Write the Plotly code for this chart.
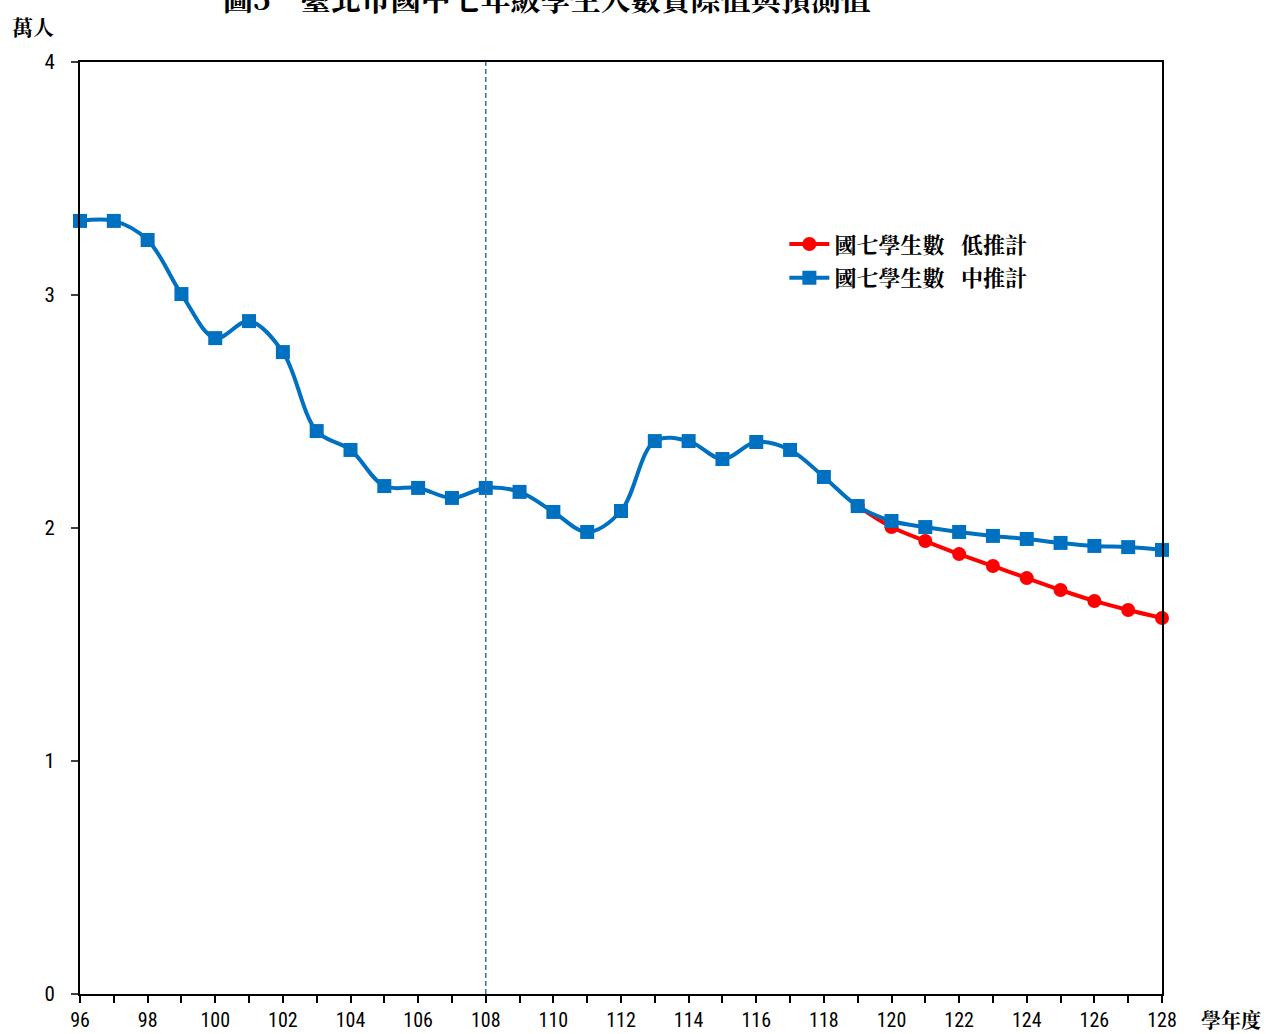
import plotly.graph_objects as go

years = list(range(96, 129))
mid_values = [3.318, 3.318, 3.236, 3.004, 2.815, 2.888, 2.755, 2.416, 2.335, 2.180,
              2.172, 2.129, 2.172, 2.155, 2.069, 1.983, 2.073, 2.373, 2.373, 2.296,
              2.369, 2.335, 2.219, 2.094, 2.030, 2.004, 1.983, 1.966, 1.953, 1.936,
              1.923, 1.918, 1.906]
low_years = list(range(119, 129))
low_values = [2.094, 2.004, 1.944, 1.888, 1.837, 1.785, 1.734, 1.687, 1.648, 1.614]
x_tick_labels = list(range(96, 129, 2))
y_tick_labels = [0, 1, 2, 3, 4]
divider_year = 108

title_text = "圖5　臺北市國中七年級學生人數實際值與預測值"
name_low = "國七學生數   低推計"
name_mid = "國七學生數   中推計"

num_font = "Liberation Sans Narrow, Arial Narrow, Roboto Condensed, sans-serif"
cjk_font = "Noto Serif CJK TC, Noto Sans CJK TC, sans-serif"

fig = go.Figure()
fig.add_trace(go.Scatter(
    x=low_years, y=low_values, name=name_low, mode="lines+markers",
    legendgroup="low",
    line=dict(color="#FF0000", width=4, shape="spline"),
    marker=dict(symbol="circle", size=14, color="#FF0000"),
    cliponaxis=False,
))
fig.add_trace(go.Scatter(
    x=years, y=mid_values, name=name_mid, mode="lines+markers",
    legendgroup="mid",
    line=dict(color="#0070C0", width=4, shape="spline"),
    marker=dict(symbol="square", size=14, color="#0070C0"),
    cliponaxis=False,
))

fig.add_shape(type="line", x0=divider_year, x1=divider_year, y0=0, y1=1, xref="x", yref="paper",
              line=dict(color="#2E75B6", width=1.5, dash="5px,3px"))

fig.add_annotation(text=title_text, xref="paper", yref="paper", x=0.432, y=1.070,
                   xanchor="center", yanchor="middle", showarrow=False,
                   font=dict(family=cjk_font, size=30, color="black", weight="bold"))
fig.add_annotation(text="萬人", xref="paper", yref="paper", x=-0.0434, y=1.0386,
                   xanchor="center", yanchor="middle", showarrow=False,
                   font=dict(family=cjk_font, size=21, color="black", weight="bold"))
fig.add_annotation(text="學年度", xref="paper", yref="paper", x=1.0635, y=-0.027,
                   xanchor="center", yanchor="middle", showarrow=False,
                   font=dict(family=cjk_font, size=20, color="black", weight="bold"))

fig.update_layout(
    width=1268, height=1034,
    margin=dict(l=80, r=106, t=62, b=40, autoexpand=False),
    paper_bgcolor="white", plot_bgcolor="white",
    showlegend=True,
    legend=dict(x=0.651, y=0.827, xanchor="left", yanchor="top",
                bgcolor="rgba(0,0,0,0)", itemwidth=40, tracegroupgap=2,
                traceorder="grouped",
                font=dict(family=cjk_font, size=22, color="black", weight="bold")),
    xaxis=dict(range=[96, 128], tickvals=x_tick_labels, ticktext=[str(v) for v in x_tick_labels],
               ticks="outside", ticklen=7, tickcolor="black", tickwidth=1.5,
               minor=dict(dtick=1, tick0=96, ticks="outside", ticklen=7, tickcolor="black", tickwidth=1.5),
               showline=True, linecolor="black", linewidth=2, mirror=True,
               showgrid=False, zeroline=False, automargin=False, ticklabelstandoff=0,
               tickfont=dict(family=num_font, size=20, color="black")),
    yaxis=dict(range=[0, 4], tickvals=y_tick_labels, ticks="outside", ticklen=7,
               tickcolor="#404040", tickwidth=1.5,
               showline=True, linecolor="black", linewidth=2, mirror=True,
               showgrid=False, zeroline=False, automargin=False, ticklabelstandoff=12,
               tickfont=dict(family=num_font, size=21, color="black")),
)

fig.write_html("out.html", config={"displayModeBar": False},
               post_script="document.body.style.margin='0';")
